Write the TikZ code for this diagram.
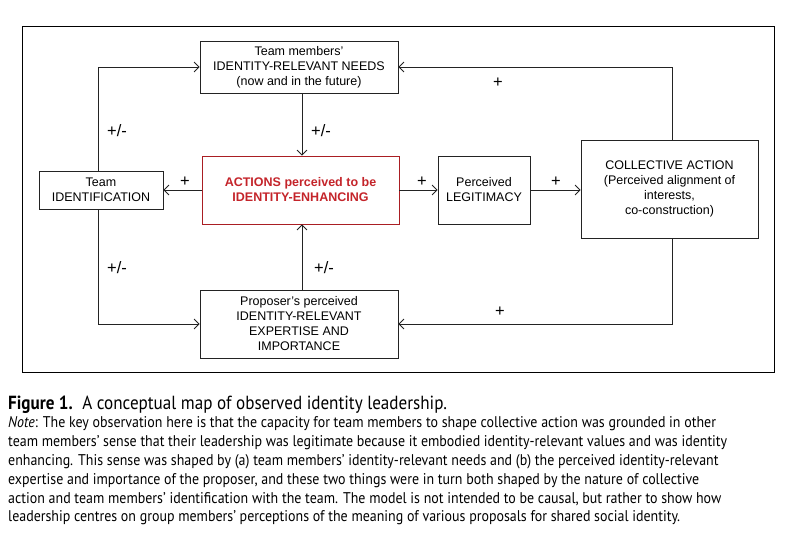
\documentclass[tikz,border=0pt]{standalone}
\usepackage{fontspec}
\setmainfont{Liberation Sans}
\newfontfamily\capfont[FakeStretch=0.9]{PT Sans}
\usetikzlibrary{arrows.meta}
\definecolor{redtxt}{RGB}{196,36,42}
\definecolor{redbox}{RGB}{170,30,35}
\definecolor{linec}{RGB}{35,35,35}
\begin{document}
\begin{tikzpicture}[x=1pt,y=-1pt,
  box/.style={draw=linec, line width=0.8pt, rectangle, inner sep=0pt, align=center,
    font=\fontsize{12.5}{15}\selectfont},
  arr/.style={draw=linec, line width=0.8pt, -{Straight Barb[length=5pt,width=10pt]}},
  sign/.style={font=\fontsize{16.5}{16.5}\selectfont, inner sep=0pt},
  capline/.style={anchor=base west, inner sep=0pt, font=\capfont\fontsize{15.5}{18.8}\selectfont},
  captitle/.style={anchor=base west, inner sep=0pt, font=\capfont\fontsize{19}{20}\selectfont}]
\useasboundingbox (0,0) rectangle (808,543);
\node[draw=black, line width=0.8pt, minimum width=752pt, minimum height=346pt, inner sep=0pt] (frame) at (398,199) {};

\node[box, minimum width=198pt, minimum height=52pt] (needs) at (299,67)
  {Team members’\\IDENTITY-RELEVANT NEEDS\\(now and in the future)};
\node[box, draw=redbox, text=redtxt, font=\bfseries\fontsize{12.5}{15}\selectfont,
  minimum width=197pt, minimum height=68pt] (actions) at (300.5,190)
  {ACTIONS perceived to be\\IDENTITY-ENHANCING};
\node[box, minimum width=124pt, minimum height=38pt] (team) at (101,190)
  {Team\\IDENTIFICATION};
\node[box, minimum width=92pt, minimum height=68pt] (legit) at (484,190)
  {Perceived\\LEGITIMACY};
\node[box, minimum width=177pt, minimum height=98pt] (coll) at (669.5,189)
  {COLLECTIVE ACTION\\(Perceived alignment of\\interests,\\co-construction)};
\node[box, minimum width=198pt, minimum height=68pt] (exp) at (299,324)
  {Proposer’s perceived\\IDENTITY-RELEVANT\\EXPERTISE AND\\IMPORTANCE};

\coordinate (xl) at (98,0);
\coordinate (xm) at (302,0);
\coordinate (xr) at (672,0);

\draw[arr] (team.north -| xl) |- (needs.west);
\draw[arr] (needs.south -| xm) -- (actions.north -| xm);
\draw[arr] (actions.west) -- (team.east);
\draw[arr] (actions.east) -- (legit.west);
\draw[arr] (legit.east) -- (coll.west |- legit.east);
\draw[arr] (coll.north -| xr) |- (needs.east);
\draw[arr] (coll.south -| xr) |- (exp.east);
\draw[arr] (team.south -| xl) |- (exp.west);
\draw[arr] (exp.north -| xm) -- (actions.south -| xm);

\node[sign] (s1) at (117,131) {+/-};
\node[sign] (s2) at (321,131) {+/-};
\node[sign] (s3) at (117,268) {+/-};
\node[sign] (s4) at (324,268) {+/-};
\node[sign] (p1) at (185,182) {+};
\node[sign] (p2) at (422,182) {+};
\node[sign] (p3) at (556,182) {+};
\node[sign] (p4) at (498,83) {+};
\node[sign] (p5) at (500,312) {+};

\node[captitle] (c1) at (8,409) {\textbf{Figure 1.}\enspace A conceptual map of observed identity leadership.};
\node[capline] (c2) at (8,427.8) {\textit{Note}: The key observation here is that the capacity for team members to shape collective action was grounded in other};
\node[capline] (c3) at (8,446.6) {team members’ sense that their leadership was legitimate because it embodied identity-relevant values and was identity};
\node[capline] (c4) at (8,465.4) {enhancing. This sense was shaped by (a) team members’ identity-relevant needs and (b) the perceived identity-relevant};
\node[capline] (c5) at (8,484.2) {expertise and importance of the proposer, and these two things were in turn both shaped by the nature of collective};
\node[capline] (c6) at (8,503) {action and team members’ identification with the team. The model is not intended to be causal, but rather to show how};
\node[capline] (c7) at (8,521.8) {leadership centres on group members’ perceptions of the meaning of various proposals for shared social identity.};
\end{tikzpicture}
\end{document}
